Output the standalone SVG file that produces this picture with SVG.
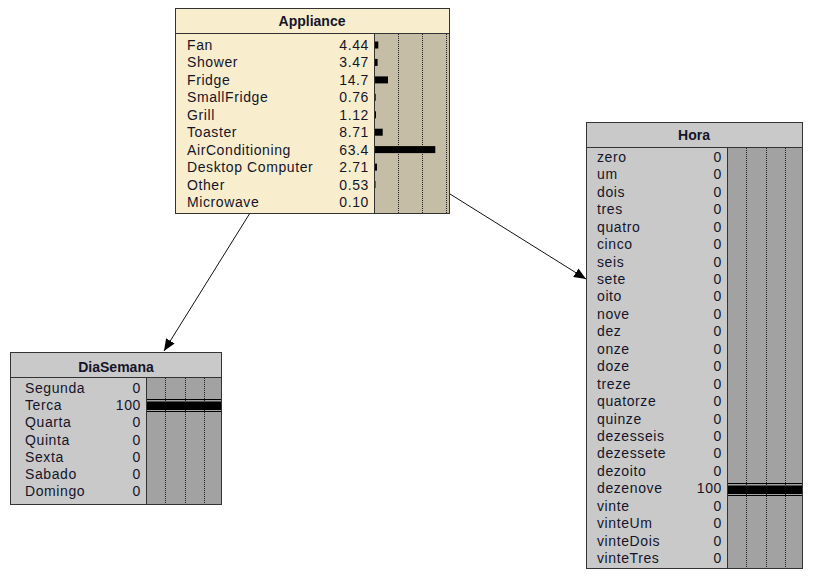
<svg xmlns="http://www.w3.org/2000/svg" width="817" height="581" viewBox="0 0 817 581">
  <style>
    text { font-family: "Liberation Sans", Arial, sans-serif; fill: #15152a; }
    .title { font-size: 14px; font-weight: bold; text-anchor: middle; }
    .lbl { font-size: 14px; letter-spacing: 0.6px; }
    .val { font-size: 14px; letter-spacing: 0.6px; text-anchor: end; }
    .frame { stroke: #333; stroke-width: 1; }
    .cream { fill: #f8edcd; }
    .tan { fill: #c6bda7; }
    .grey { fill: #c9c9c9; }
    .dark { fill: #a2a2a2; }
    .grid { stroke: #222; stroke-width: 1; stroke-dasharray: 1 1; }
    .bar { fill: #000; }
    .edge { stroke: #111; stroke-width: 1; fill: none; marker-end: url(#arrow); }
  </style>
  <defs>
    <marker id="arrow" viewBox="0 0 12 10" refX="12" refY="5" markerWidth="12" markerHeight="10" markerUnits="userSpaceOnUse" orient="auto">
      <path d="M0,0 L12,5 L0,10 z" fill="#000"/>
    </marker>
  </defs>

  <!-- links between nodes -->
  <g id="connectors">
    <line class="edge" x1="250" y1="213" x2="164" y2="351"/>
    <line class="edge" x1="450" y1="194" x2="586" y2="279"/>
  </g>

  <!-- Appliance node -->
  <g id="node-appliance">
    <rect class="cream frame" x="175.5" y="8.5" width="274" height="205"/>
    <line class="frame" x1="175.5" y1="33.5" x2="449.5" y2="33.5"/>
    <rect class="tan" x="374.5" y="34" width="74.5" height="179"/>
    <line class="frame" x1="374.5" y1="33.5" x2="374.5" y2="213.5"/>
    <line class="grid" x1="398.5" y1="34" x2="398.5" y2="213"/>
    <line class="grid" x1="422.5" y1="34" x2="422.5" y2="213"/>
    <line class="grid" x1="446.5" y1="34" x2="446.5" y2="213"/>
    <text class="title" x="312" y="26">Appliance</text>
    <g>
      <text class="lbl" x="187" y="50">Fan</text><text class="val" x="369" y="50">4.44</text>
      <text class="lbl" x="187" y="67.4">Shower</text><text class="val" x="369" y="67.4">3.47</text>
      <text class="lbl" x="187" y="84.9">Fridge</text><text class="val" x="369" y="84.9">14.7</text>
      <text class="lbl" x="187" y="102.3">SmallFridge</text><text class="val" x="369" y="102.3">0.76</text>
      <text class="lbl" x="187" y="119.8">Grill</text><text class="val" x="369" y="119.8">1.12</text>
      <text class="lbl" x="187" y="137.2">Toaster</text><text class="val" x="369" y="137.2">8.71</text>
      <text class="lbl" x="187" y="154.6">AirConditioning</text><text class="val" x="369" y="154.6">63.4</text>
      <text class="lbl" x="187" y="172.1">Desktop Computer</text><text class="val" x="369" y="172.1">2.71</text>
      <text class="lbl" x="187" y="189.5">Other</text><text class="val" x="369" y="189.5">0.53</text>
      <text class="lbl" x="187" y="207">Microwave</text><text class="val" x="369" y="207">0.10</text>
    </g>
    <g>
      <rect class="bar" x="375" y="41.5" width="3.3" height="7"/>
      <rect class="bar" x="375" y="58.9" width="2.6" height="7"/>
      <rect class="bar" x="375" y="76.4" width="13" height="7"/>
      <rect class="bar" x="375" y="93.8" width="0.7" height="7"/>
      <rect class="bar" x="375" y="111.3" width="1" height="7"/>
      <rect class="bar" x="375" y="128.7" width="7.7" height="7"/>
      <rect class="bar" x="375" y="146.1" width="60.3" height="7"/>
      <rect class="bar" x="375" y="163.6" width="2" height="7"/>
      <rect class="bar" x="375" y="181" width="0.5" height="7"/>
    </g>
  </g>

  <!-- DiaSemana node -->
  <g id="node-diasemana">
    <rect class="grey frame" x="10.5" y="352.5" width="211" height="152"/>
    <line class="frame" x1="10.5" y1="377.5" x2="221.5" y2="377.5"/>
    <rect class="dark" x="146.5" y="378" width="74.5" height="126"/>
    <line class="frame" x1="146.5" y1="377.5" x2="146.5" y2="504.5"/>
    <line class="grid" x1="165.5" y1="378" x2="165.5" y2="504"/>
    <line class="grid" x1="185.5" y1="378" x2="185.5" y2="504"/>
    <line class="grid" x1="204.5" y1="378" x2="204.5" y2="504"/>
    <text class="title" x="116" y="372">DiaSemana</text>
    <g>
      <text class="lbl" x="25" y="393">Segunda</text><text class="val" x="141" y="393">0</text>
      <text class="lbl" x="25" y="410.2">Terca</text><text class="val" x="141" y="410.2">100</text>
      <text class="lbl" x="25" y="427.3">Quarta</text><text class="val" x="141" y="427.3">0</text>
      <text class="lbl" x="25" y="444.5">Quinta</text><text class="val" x="141" y="444.5">0</text>
      <text class="lbl" x="25" y="461.7">Sexta</text><text class="val" x="141" y="461.7">0</text>
      <text class="lbl" x="25" y="478.9">Sabado</text><text class="val" x="141" y="478.9">0</text>
      <text class="lbl" x="25" y="496">Domingo</text><text class="val" x="141" y="496">0</text>
    </g>
    <line x1="147" y1="399.5" x2="221" y2="399.5" stroke="#000"/>
    <rect class="bar" x="147" y="401.5" width="74" height="8.5"/>
    <line x1="147" y1="411.5" x2="221" y2="411.5" stroke="#000"/>
  </g>

  <!-- Hora node -->
  <g id="node-hora">
    <rect class="grey frame" x="586.5" y="122.5" width="216" height="446"/>
    <line class="frame" x1="586.5" y1="147.5" x2="802.5" y2="147.5"/>
    <rect class="dark" x="727.5" y="148" width="74.5" height="420"/>
    <line class="frame" x1="727.5" y1="147.5" x2="727.5" y2="568.5"/>
    <line class="grid" x1="746.5" y1="148" x2="746.5" y2="568"/>
    <line class="grid" x1="766.5" y1="148" x2="766.5" y2="568"/>
    <line class="grid" x1="785.5" y1="148" x2="785.5" y2="568"/>
    <text class="title" x="694" y="140">Hora</text>
    <g>
      <text class="lbl" x="597" y="162">zero</text><text class="val" x="722" y="162">0</text>
      <text class="lbl" x="597" y="179.4">um</text><text class="val" x="722" y="179.4">0</text>
      <text class="lbl" x="597" y="196.9">dois</text><text class="val" x="722" y="196.9">0</text>
      <text class="lbl" x="597" y="214.3">tres</text><text class="val" x="722" y="214.3">0</text>
      <text class="lbl" x="597" y="231.7">quatro</text><text class="val" x="722" y="231.7">0</text>
      <text class="lbl" x="597" y="249.2">cinco</text><text class="val" x="722" y="249.2">0</text>
      <text class="lbl" x="597" y="266.6">seis</text><text class="val" x="722" y="266.6">0</text>
      <text class="lbl" x="597" y="284">sete</text><text class="val" x="722" y="284">0</text>
      <text class="lbl" x="597" y="301.4">oito</text><text class="val" x="722" y="301.4">0</text>
      <text class="lbl" x="597" y="318.9">nove</text><text class="val" x="722" y="318.9">0</text>
      <text class="lbl" x="597" y="336.3">dez</text><text class="val" x="722" y="336.3">0</text>
      <text class="lbl" x="597" y="353.7">onze</text><text class="val" x="722" y="353.7">0</text>
      <text class="lbl" x="597" y="371.2">doze</text><text class="val" x="722" y="371.2">0</text>
      <text class="lbl" x="597" y="388.6">treze</text><text class="val" x="722" y="388.6">0</text>
      <text class="lbl" x="597" y="406">quatorze</text><text class="val" x="722" y="406">0</text>
      <text class="lbl" x="597" y="423.5">quinze</text><text class="val" x="722" y="423.5">0</text>
      <text class="lbl" x="597" y="440.9">dezesseis</text><text class="val" x="722" y="440.9">0</text>
      <text class="lbl" x="597" y="458.3">dezessete</text><text class="val" x="722" y="458.3">0</text>
      <text class="lbl" x="597" y="475.7">dezoito</text><text class="val" x="722" y="475.7">0</text>
      <text class="lbl" x="597" y="493.2">dezenove</text><text class="val" x="722" y="493.2">100</text>
      <text class="lbl" x="597" y="510.6">vinte</text><text class="val" x="722" y="510.6">0</text>
      <text class="lbl" x="597" y="528">vinteUm</text><text class="val" x="722" y="528">0</text>
      <text class="lbl" x="597" y="545.5">vinteDois</text><text class="val" x="722" y="545.5">0</text>
      <text class="lbl" x="597" y="562.9">vinteTres</text><text class="val" x="722" y="562.9">0</text>
    </g>
    <line x1="728" y1="483.5" x2="802" y2="483.5" stroke="#000"/>
    <rect class="bar" x="728" y="485.5" width="74" height="8.5"/>
    <line x1="728" y1="495.5" x2="802" y2="495.5" stroke="#000"/>
  </g>
</svg>
